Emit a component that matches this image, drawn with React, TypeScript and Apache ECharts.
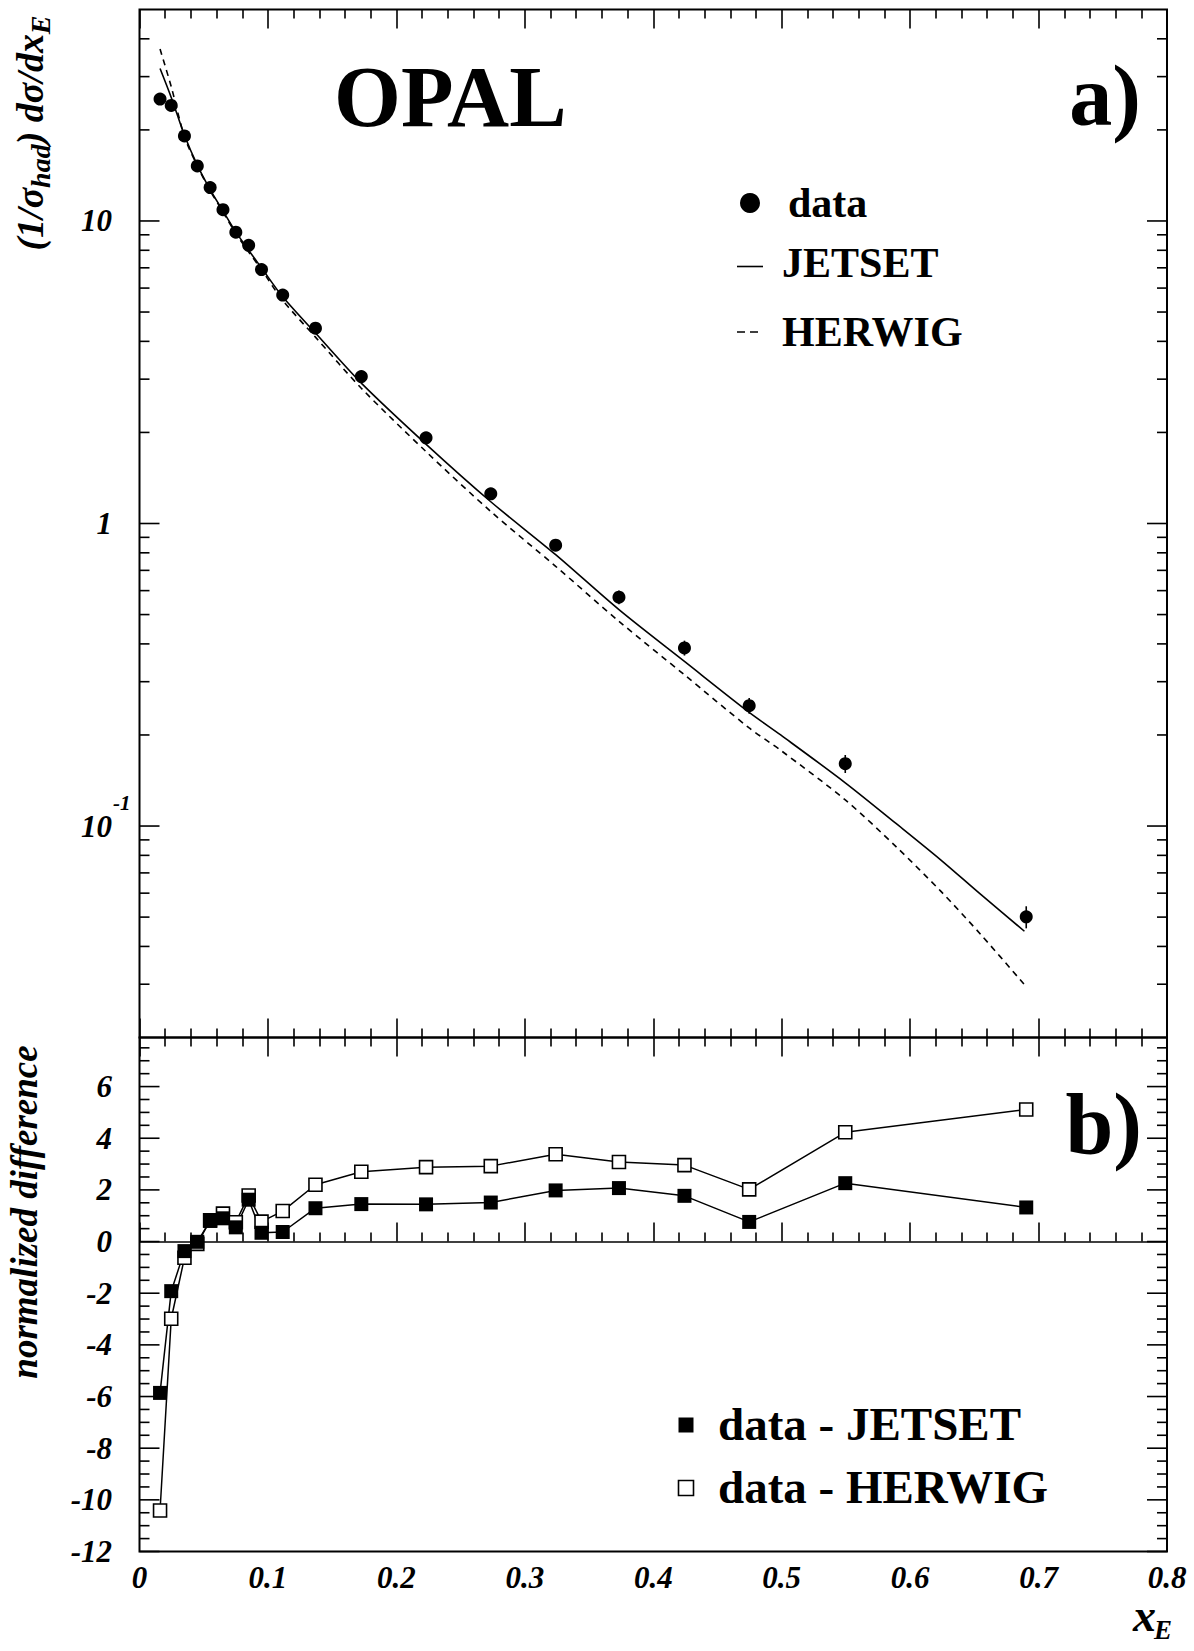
import React, { useEffect, useRef } from 'react';
import * as echarts from 'echarts';

const SERIF = '"Liberation Serif", "Times New Roman", serif';

// ---- panel a) data ----
const xE = [0.016, 0.0247, 0.035, 0.045, 0.055, 0.065, 0.075, 0.085, 0.095, 0.1115, 0.137, 0.1727, 0.2231, 0.2735, 0.324, 0.3733, 0.4243, 0.4747, 0.5495, 0.6904];
const dataY = [25.3, 24.1, 19.1, 15.2, 12.9, 10.9, 9.18, 8.31, 6.91, 5.69, 4.42, 3.06, 1.92, 1.253, 0.848, 0.571, 0.388, 0.25, 0.1607, 0.0501];
const dataErr = [0.5, 0.45, 0.35, 0.28, 0.23, 0.2, 0.17, 0.15, 0.13, 0.1, 0.09, 0.07, 0.05, 0.04, 0.035, 0.03, 0.022, 0.015, 0.011, 0.0042];

const curveX = [0.016, 0.025, 0.035, 0.045, 0.055, 0.065, 0.075, 0.085, 0.095, 0.111, 0.137, 0.1727, 0.223, 0.2735, 0.324, 0.3733, 0.4243, 0.4747, 0.4992, 0.5495, 0.589, 0.624, 0.655, 0.689];
const jetsetY = [31.9, 25.4, 19.2, 15.3, 12.7, 10.8, 9.2, 8.0, 7.0, 5.65, 4.26, 2.91, 1.83, 1.18, 0.789, 0.519, 0.35, 0.2375, 0.2, 0.139, 0.102, 0.0772, 0.0594, 0.0449];
const herwigY = [37.0, 27.5, 19.0, 15.2, 12.6, 10.7, 9.1, 7.9, 6.9, 5.5, 4.13, 2.8, 1.73, 1.096, 0.722, 0.475, 0.316, 0.211, 0.178, 0.122, 0.0855, 0.0608, 0.0438, 0.0299];

// ---- panel b) data ----
const diffJetset = [-5.86, -1.92, -0.37, -0.01, 0.8, 0.9, 0.55, 1.62, 0.34, 0.37, 1.29, 1.45, 1.44, 1.51, 1.98, 2.07, 1.77, 0.76, 2.26, 1.32];
const diffHerwig = [-10.41, -2.99, -0.63, -0.09, 0.82, 1.08, 0.75, 1.78, 0.77, 1.18, 2.2, 2.7, 2.88, 2.92, 3.38, 3.08, 2.96, 2.02, 4.23, 5.11];

// ---- axes ----
const xMin = 0;
const xMax = 0.8;
const xInterval = 0.1;
const logMin = 0.02;
const logMax = 50;
const logMajor = [0.1, 1, 10];
const logLabelBase = ['10', '1', '10'];
const logLabelExp = ['-1', '', ''];
const logMinorMantissa = [2, 3, 4, 5, 6, 7, 8, 9];
const logDecades = [0.01, 0.1, 1, 10];
const diffMin = -12;
const diffMax = 7.9;
const diffMajor = [-12, -10, -8, -6, -4, -2, 0, 2, 4, 6];
const diffMinorStep = 0.5;

const LABEL_FONT = `italic bold 31px ${SERIF}`;
const EXP_FONT = `italic bold 21px ${SERIF}`;

const logMinor: number[] = [];
logDecades.forEach((d) => logMinorMantissa.forEach((m) => {
  const v = +(d * m).toPrecision(6);
  if (v > logMin && v < logMax) logMinor.push(v);
}));
const diffMinor: number[] = [];
for (let v = diffMin + diffMinorStep; v < diffMax; v += diffMinorStep) {
  const r = Math.round(v * 10) / 10;
  if (!diffMajor.includes(r)) diffMinor.push(r);
}

const tickStyle = { stroke: '#000', lineWidth: 1.6 };

function yTicksRender(withLabels: boolean) {
  return (params: any, api: any) => {
    const v = api.value(1);
    const kind = api.value(2);
    const y = api.coord([0, v])[1];
    const cs = params.coordSys;
    const len = kind ? 20 : 10;
    const children: any[] = [
      { type: 'line', shape: { x1: cs.x, y1: y, x2: cs.x + len, y2: y }, style: tickStyle },
      { type: 'line', shape: { x1: cs.x + cs.width - len, y1: y, x2: cs.x + cs.width, y2: y }, style: tickStyle },
    ];
    if (withLabels && kind) {
      const idx = api.value(3);
      children.push({
        type: 'text', x: cs.x - 27.5, y,
        style: { text: logLabelBase[idx], font: LABEL_FONT, fill: '#000', align: 'right', verticalAlign: 'middle', textAlign: 'right', textVerticalAlign: 'middle' },
      });
      if (logLabelExp[idx]) {
        children.push({
          type: 'text', x: cs.x - 26.5, y: y - 23,
          style: { text: logLabelExp[idx], font: EXP_FONT, fill: '#000', align: 'left', verticalAlign: 'middle', textAlign: 'left', textVerticalAlign: 'middle' },
        });
      }
    }
    return { type: 'group', children };
  };
}

function errRender(params: any, api: any) {
  const x = api.value(0);
  const y = api.value(1);
  const e = api.value(2);
  const p1 = api.coord([x, y - e]);
  const p2 = api.coord([x, y + e]);
  return { type: 'line', shape: { x1: p1[0], y1: p1[1], x2: p2[0], y2: p2[1] }, style: { stroke: '#000', lineWidth: 1.6 } };
}

const xTickAxis = (gridIndex: number, position: 'top' | 'bottom', labels: boolean) => ({
  type: 'value',
  gridIndex,
  position,
  min: xMin,
  max: xMax,
  interval: xInterval,
  axisLine: { show: false },
  splitLine: { show: false },
  axisTick: { show: true, inside: true, length: 19, lineStyle: { color: '#000', width: 1.6 } },
  minorTick: { show: true, splitNumber: 5, length: 9, lineStyle: { color: '#000', width: 1.6 } },
  axisLabel: {
    show: labels,
    margin: 10,
    color: '#000',
    fontFamily: SERIF,
    fontSize: 31,
    fontWeight: 'bold',
    fontStyle: 'italic',
    formatter: (v: number) => (v === 0 ? '0' : v.toFixed(1)),
  },
});

const textStyle = (text: string, font: string, align: string, extra: any = {}) => ({
  text, font, fill: '#000', align, verticalAlign: 'middle', textAlign: align, textVerticalAlign: 'middle', ...extra,
});

export default function App() {
  const ref = useRef<HTMLDivElement>(null);
  useEffect(() => {
    document.body.style.margin = '0';
    const chart = echarts.init(ref.current!, null, { renderer: 'svg' });
    const option: any = {
      animation: false,
      backgroundColor: '#fff',
      grid: [
        { left: 139.5, top: 9.5, width: 1027.5, height: 1028, show: true, borderColor: '#000', borderWidth: 2, backgroundColor: 'transparent' },
        { left: 139.5, top: 1037.5, width: 1027.5, height: 514, show: true, borderColor: '#000', borderWidth: 2, backgroundColor: 'transparent' },
      ],
      xAxis: [
        xTickAxis(0, 'bottom', false),
        xTickAxis(0, 'top', false),
        xTickAxis(1, 'bottom', true),
        xTickAxis(1, 'top', false),
      ],
      yAxis: [
        {
          type: 'log', gridIndex: 0, min: logMin, max: logMax, logBase: 10,
          axisLine: { show: false }, axisTick: { show: false }, axisLabel: { show: false }, splitLine: { show: false },
        },
        {
          type: 'value', gridIndex: 1, min: diffMin, max: diffMax, interval: 2,
          axisLine: { show: false }, axisTick: { show: false }, splitLine: { show: false },
          axisLabel: {
            margin: 27.5, color: '#000', fontFamily: SERIF, fontSize: 31, fontWeight: 'bold', fontStyle: 'italic',
            formatter: (v: number) => (Math.abs(v % 2) < 1e-9 ? String(v) : ''),
          },
        },
      ],
      series: [
        {
          type: 'custom', xAxisIndex: 0, yAxisIndex: 0, clip: false, silent: true,
          renderItem: yTicksRender(true),
          data: [
            ...logMajor.map((v, i) => [0, v, 1, i]),
            ...logMinor.map((v) => [0, v, 0, -1]),
          ],
        },
        {
          type: 'custom', xAxisIndex: 0, yAxisIndex: 0, silent: true,
          renderItem: errRender,
          data: xE.map((x, i) => [x, dataY[i], dataErr[i]]),
        },
        {
          name: 'JETSET', type: 'line', xAxisIndex: 0, yAxisIndex: 0, showSymbol: false, smooth: 0.3,
          lineStyle: { color: '#000', width: 1.6, type: 'solid' },
          data: curveX.map((x, i) => [x, jetsetY[i]]),
        },
        {
          name: 'HERWIG', type: 'line', xAxisIndex: 0, yAxisIndex: 0, showSymbol: false, smooth: 0.3,
          lineStyle: { color: '#000', width: 1.6, type: [6, 5] },
          data: curveX.map((x, i) => [x, herwigY[i]]),
        },
        {
          name: 'data', type: 'scatter', xAxisIndex: 0, yAxisIndex: 0, symbol: 'circle', symbolSize: 13,
          itemStyle: { color: '#000', opacity: 1 },
          data: xE.map((x, i) => [x, dataY[i]]),
        },
        {
          type: 'custom', xAxisIndex: 2, yAxisIndex: 1, clip: false, silent: true,
          renderItem: yTicksRender(false),
          data: [
            ...diffMajor.map((v) => [0, v, 1, -1]),
            ...diffMinor.map((v) => [0, v, 0, -1]),
          ],
        },
        {
          name: 'data - HERWIG', type: 'line', xAxisIndex: 2, yAxisIndex: 1, symbol: 'rect', symbolSize: 13,
          lineStyle: { color: '#000', width: 1.5 },
          itemStyle: { color: '#fff', borderColor: '#000', borderWidth: 1.6, opacity: 1 },
          data: xE.map((x, i) => [x, diffHerwig[i]]),
        },
        {
          name: 'data - JETSET', type: 'line', xAxisIndex: 2, yAxisIndex: 1, symbol: 'rect', symbolSize: 14,
          lineStyle: { color: '#000', width: 1.5 },
          itemStyle: { color: '#000', opacity: 1 },
          data: xE.map((x, i) => [x, diffJetset[i]]),
          markLine: {
            silent: true, symbol: ['none', 'none'], label: { show: false },
            lineStyle: { color: '#000', width: 1.5, type: 'solid' },
            data: [{ yAxis: 0 }],
          },
        },
      ],
      graphic: [
        { type: 'text', x: 334, y: 97, style: textStyle('OPAL', `bold 86px ${SERIF}`, 'left') },
        { type: 'text', x: 1141, y: 96, style: textStyle('a)', `bold 86px ${SERIF}`, 'right') },
        { type: 'text', x: 1142, y: 1124, style: textStyle('b)', `bold 86px ${SERIF}`, 'right') },
        // top legend
        { type: 'circle', shape: { cx: 750, cy: 203, r: 10 }, style: { fill: '#000' } },
        { type: 'text', x: 788, y: 203, style: textStyle('data', `bold 42px ${SERIF}`, 'left') },
        { type: 'line', shape: { x1: 737, y1: 266.5, x2: 763, y2: 266.5 }, style: { stroke: '#000', lineWidth: 1.6 } },
        { type: 'text', x: 782, y: 263, style: textStyle('JETSET', `bold 42px ${SERIF}`, 'left') },
        { type: 'line', shape: { x1: 737, y1: 332, x2: 759, y2: 332 }, style: { stroke: '#000', lineWidth: 1.6, lineDash: [8, 5] } },
        { type: 'text', x: 782, y: 332, style: textStyle('HERWIG', `bold 42px ${SERIF}`, 'left') },
        // bottom legend
        { type: 'rect', shape: { x: 678.5, y: 1417.5, width: 15, height: 15 }, style: { fill: '#000' } },
        { type: 'text', x: 718, y: 1424, style: textStyle('data - JETSET', `bold 47px ${SERIF}`, 'left') },
        { type: 'rect', shape: { x: 678.5, y: 1480.5, width: 15, height: 15 }, style: { fill: '#fff', stroke: '#000', lineWidth: 1.6 } },
        { type: 'text', x: 718, y: 1487, style: textStyle('data - HERWIG', `bold 47px ${SERIF}`, 'left') },
        // axis titles
        {
          type: 'text', x: 30, y: 133, rotation: Math.PI / 2,
          style: {
            text: '{p|(1/σ}{s|had}{p|) dσ/dx}{s|E}',
            fill: '#000', align: 'center', verticalAlign: 'middle', textAlign: 'center', textVerticalAlign: 'middle',
            rich: {
              p: { fontFamily: SERIF, fontSize: 38, fontWeight: 'bold', fontStyle: 'italic', lineHeight: 48, color: '#000' },
              s: { fontFamily: SERIF, fontSize: 28, fontWeight: 'bold', fontStyle: 'italic', lineHeight: 25, verticalAlign: 'bottom', color: '#000' },
            },
          },
        },
        { type: 'text', x: 24, y: 1212, rotation: Math.PI / 2, style: textStyle('normalized difference', `italic bold 37px ${SERIF}`, 'center') },
        { type: 'text', x: 1133, y: 1615, style: textStyle('x', `italic bold 46px ${SERIF}`, 'left') },
        { type: 'text', x: 1154, y: 1630, style: textStyle('E', `italic bold 27px ${SERIF}`, 'left') },
      ],
    };
    chart.setOption(option);
    return () => chart.dispose();
  }, []);
  return <div ref={ref} style={{ position: 'absolute', left: 0, top: 0, width: 1194, height: 1651, background: '#fff' }} />;
}
